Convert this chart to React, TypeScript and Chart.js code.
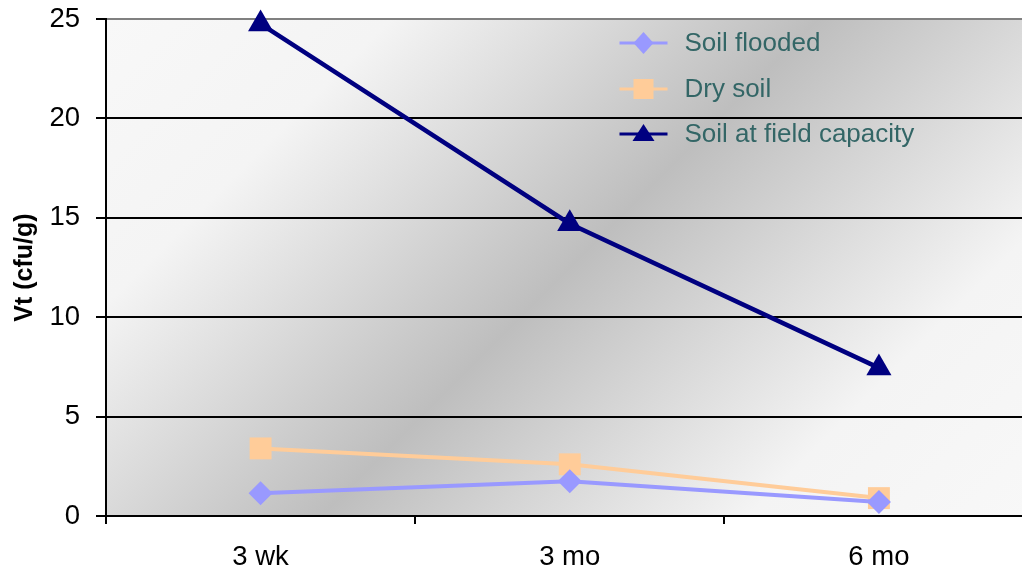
import React, { useEffect, useRef } from "react";
import { Chart, registerables } from "chart.js";

Chart.register(...registerables);

const categories = ["3 wk", "3 mo", "6 mo"];
const soilFlooded = [1.15, 1.75, 0.7];
const drySoil = [3.4, 2.6, 0.9];
const fieldCapacity = [24.75, 14.7, 7.45];
const yTicks = [0, 5, 10, 15, 20, 25];

const seriesNames = ["Soil flooded", "Dry soil", "Soil at field capacity"];
const seriesColors = ["#9999FF", "#FFCC99", "#000080"];

function drawMarker(ctx: CanvasRenderingContext2D, kind: number, x: number, y: number, color: string) {
  ctx.save();
  ctx.fillStyle = color;
  ctx.beginPath();
  if (kind === 0) {
    ctx.moveTo(x, y - 11);
    ctx.lineTo(x + 10, y);
    ctx.lineTo(x, y + 11);
    ctx.lineTo(x - 10, y);
  } else if (kind === 1) {
    ctx.rect(x - 10, y - 10, 20, 20);
  } else {
    ctx.moveTo(x, y - 10);
    ctx.lineTo(x + 11, y + 7);
    ctx.lineTo(x - 11, y + 7);
  }
  ctx.closePath();
  ctx.fill();
  ctx.restore();
}

const bgPlugin = {
  id: "bgGradient",
  beforeDraw(chart: any) {
    const { ctx, chartArea } = chart;
    const { left, top, right, bottom } = chartArea;
    const cx = (left + right) / 2;
    const cy = (top + bottom) / 2;
    const w = right - left;
    const h = bottom - top;
    const d = (w + h) / 4;
    const g = ctx.createLinearGradient(cx - d, cy - d, cx + d, cy + d);
    g.addColorStop(0, "#f8f8f8");
    g.addColorStop(0.2, "#f4f4f4");
    g.addColorStop(0.5, "#bebebe");
    g.addColorStop(0.8, "#f4f4f4");
    g.addColorStop(1, "#f8f8f8");
    ctx.save();
    ctx.fillStyle = g;
    ctx.fillRect(left, top, w, h);
    ctx.restore();
  },
};

const legendPlugin = {
  id: "customLegend",
  afterDraw(chart: any) {
    const { ctx, chartArea } = chart;
    const x0 = chartArea.right - 414;
    const rows = [43, 89, 134];
    ctx.save();
    seriesNames.forEach((name, i) => {
      const y = rows[i];
      ctx.strokeStyle = seriesColors[i];
      ctx.lineWidth = 3;
      ctx.beginPath();
      ctx.moveTo(x0, y);
      ctx.lineTo(x0 + 48, y);
      ctx.stroke();
      drawMarker(ctx, i, x0 + 24, y, seriesColors[i]);
      ctx.fillStyle = "#336666";
      ctx.font = "26px 'Liberation Sans', Arial, sans-serif";
      ctx.textAlign = "left";
      ctx.textBaseline = "middle";
      ctx.fillText(name, x0 + 65, y + 1);
    });
    ctx.restore();
  },
};

const CANVAS_W = 1049;

export default function App() {
  const ref = useRef<HTMLCanvasElement | null>(null);

  useEffect(() => {
    document.body.style.margin = "0";
    const canvas = ref.current;
    if (!canvas) return;
    const font = { family: "'Liberation Sans', Arial, sans-serif", size: 27.5 };
    const chart = new Chart(canvas, {
      type: "line",
      data: {
        labels: categories,
        datasets: [
          {
            label: seriesNames[0],
            data: soilFlooded,
            borderColor: seriesColors[0],
            backgroundColor: seriesColors[0],
            borderWidth: 4,
            pointStyle: "rectRot",
            pointRadius: 12,
            pointBorderWidth: 0,
            clip: false,
          },
          {
            label: seriesNames[1],
            data: drySoil,
            borderColor: seriesColors[1],
            backgroundColor: seriesColors[1],
            borderWidth: 4,
            pointStyle: "rect",
            pointRadius: 15.5,
            pointBorderWidth: 0,
            clip: false,
          },
          {
            label: seriesNames[2],
            data: fieldCapacity,
            borderColor: seriesColors[2],
            backgroundColor: seriesColors[2],
            borderWidth: 4.5,
            pointStyle: "triangle",
            pointRadius: 14.5,
            pointBorderWidth: 0,
            clip: false,
          },
        ],
      },
      options: {
        responsive: false,
        animation: false,
        devicePixelRatio: 1,
        layout: { padding: { top: 19, left: 0, right: 1, bottom: 0 } },
        plugins: {
          legend: { display: false },
          tooltip: { enabled: false },
        },
        scales: {
          x: {
            type: "category",
            offset: true,
            grid: {
              display: true,
              offset: true,
              drawOnChartArea: false,
              drawTicks: true,
              tickLength: 8,
              color: "#000",
              tickColor: "#000",
              lineWidth: 2,
            },
            border: { display: true, color: "#000", width: 2 },
            ticks: { color: "#000", font, padding: 17, maxRotation: 0 },
            afterFit: (s: any) => {
              s.height = 60;
              s.paddingLeft = 0;
              s.paddingRight = 0;
            },
          },
          y: {
            min: 0,
            max: 25,
            afterBuildTicks: (s: any) => {
              s.ticks = yTicks.map((v) => ({ value: v }));
            },
            grid: {
              color: (c: any) => (c.tick && c.tick.value === 25 ? "#808080" : "#000"),
              tickColor: "#000",
              lineWidth: 2,
              drawTicks: true,
              tickLength: 10,
            },
            border: { display: true, color: "#000", width: 2 },
            ticks: { color: "#000", font, padding: 16 },
            title: {
              display: true,
              text: "Vt (cfu/g)",
              color: "#000",
              font: { family: "'Liberation Sans', Arial, sans-serif", size: 25, weight: "bold" },
              padding: { top: 10, bottom: 4 },
            },
            afterFit: (s: any) => {
              s.width = 106;
              s.paddingTop = 0;
              s.paddingBottom = 0;
            },
          },
        },
      },
      plugins: [bgPlugin, legendPlugin],
    } as any);
    return () => chart.destroy();
  }, []);

  return (
    <div style={{ position: "fixed", left: 0, top: 0, width: 1022, height: 576, overflow: "hidden", background: "#fff" }}>
      <div style={{ position: "relative", width: CANVAS_W, height: 576 }}>
        <canvas ref={ref} width={CANVAS_W} height={576} style={{ width: CANVAS_W, height: 576, display: "block" }} />
      </div>
    </div>
  );
}
